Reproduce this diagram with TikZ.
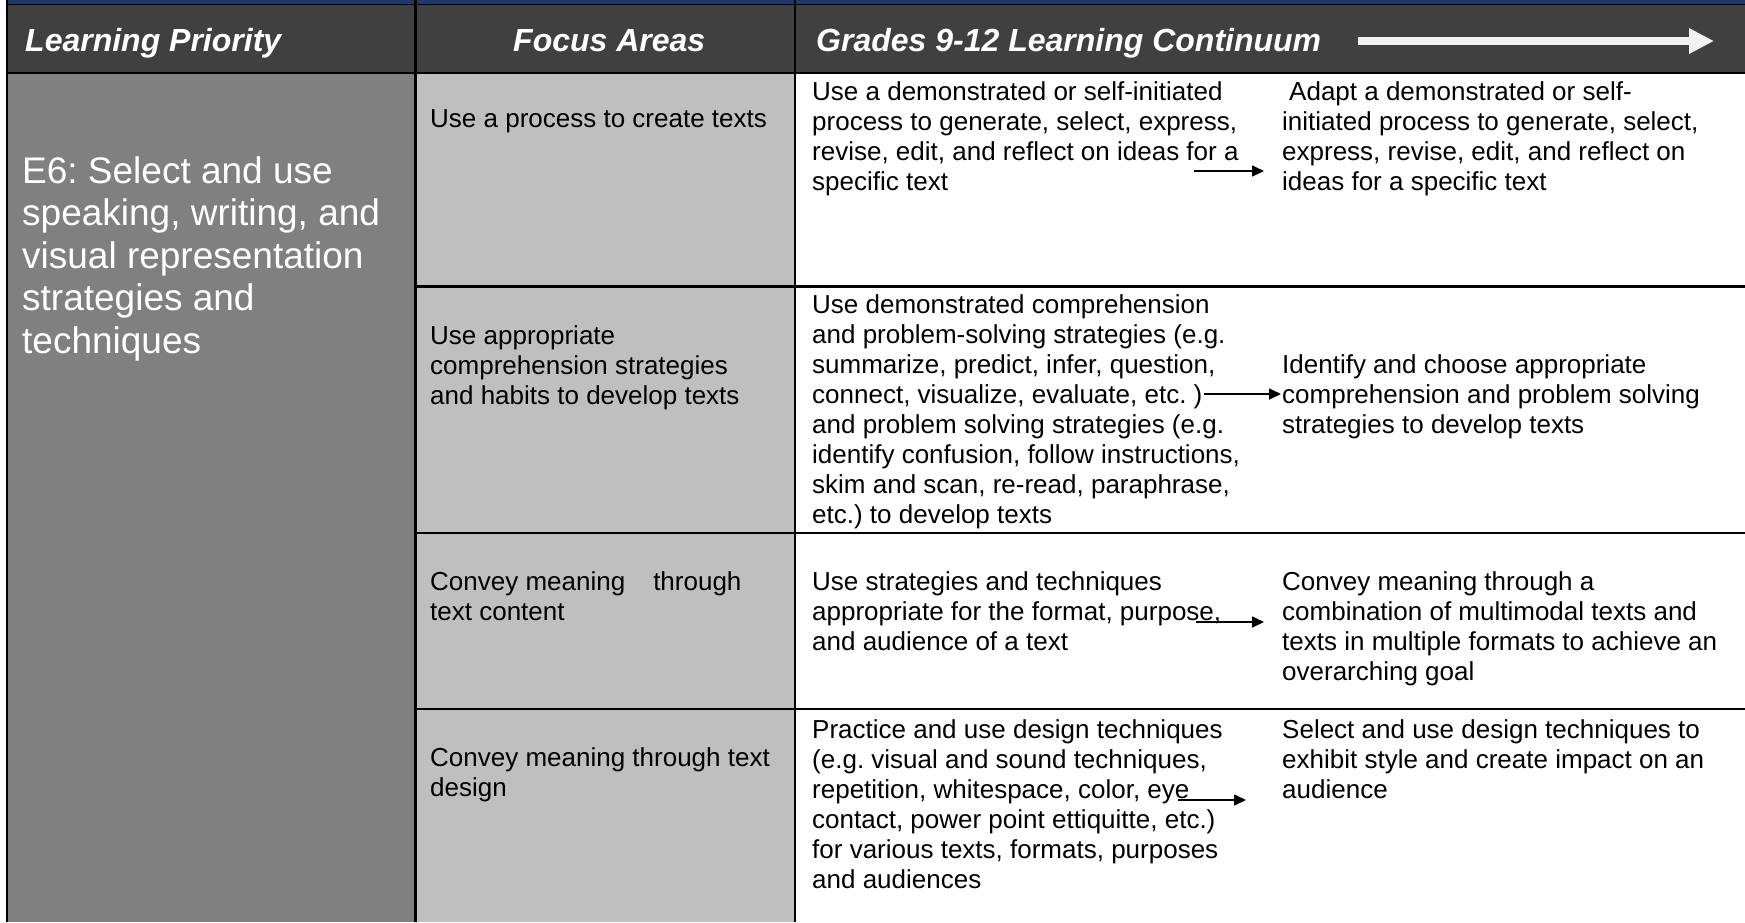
\documentclass[tikz,border=0pt]{standalone}
\usepackage{fontspec}
\setmainfont{Liberation Sans}
\usetikzlibrary{arrows.meta}

\definecolor{bandblue}{RGB}{31,56,100}
\definecolor{hdrgray}{RGB}{64,64,64}
\definecolor{prigray}{RGB}{128,128,128}
\definecolor{focgray}{RGB}{191,191,191}
\definecolor{arrowwhite}{RGB}{242,242,242}

\newcommand{\cellbox}[2][470pt]{\parbox[t]{#1}{\raggedright\frenchspacing #2}}

\begin{document}
\begin{tikzpicture}[x=1pt,y=-1pt,
  hdr/.style={anchor=base west,inner sep=0pt,text=white,font=\fontsize{32}{38}\selectfont\bfseries\itshape},
  prio/.style={anchor=base west,inner sep=0pt,text=white,font=\fontsize{37}{42.5}\selectfont},
  cell/.style={anchor=base west,inner sep=0pt,font=\fontsize{26}{30}\selectfont},
  gridline/.style={line width=2.2pt,black},
  contarrow/.style={line width=1.6pt,-{Triangle[length=12pt,width=11pt]}}]
   \useasboundingbox (0,0) rectangle (1745,922);
   \fill[white] (0,0) rectangle (1745,922);
   % band, header and column fills
   \fill[bandblue] (7,0) rectangle (1745,4.5);
   \fill[hdrgray] (7,4.5) rectangle (1745,73);
   \fill[prigray] (7,73) rectangle (415.5,922);
   \fill[focgray] (415.5,73) rectangle (795,922);
   % grid
   \draw[line width=1.5pt,black] (7,4.5) -- (1745,4.5);
   \draw[gridline] (7,73) -- (1745,73);
   \foreach \y in {286.5,533,709} \draw[gridline] (415.5,\y) -- (1745,\y);
   \foreach \x in {7,415.5,795} \draw[gridline] (\x,0) -- (\x,922);

   % header
   \node [hdr] (h_prio) at (25,51) {Learning Priority};
   \node [hdr] (h_focus) at (513,51) {Focus Areas};
   \node [hdr] (h_cont) at (816,51) {Grades 9-12 Learning Continuum};
   \coordinate (ha_s) at (1358,41);
   \coordinate (ha_e) at (1714,41);
   \draw[line width=8pt,arrowwhite,-{Triangle[length=25pt,width=24pt]}] (ha_s) -- (ha_e);

   % learning priority
   \node [prio] (prio) at (22,183) {\cellbox[390pt]{E6: Select and use\\ speaking, writing, and\\ visual representation\\ strategies and\\ techniques}};

   % focus areas
   \node [cell] (f_1) at (430,127) {\cellbox{Use a process to create texts}};
   \node [cell] (f_2) at (430,344) {\cellbox{Use appropriate\\ comprehension strategies\\ and habits to develop texts}};
   \node [cell] (f_3) at (430,590) {\cellbox{Convey meaning\hspace*{28pt}through\\ text content}};
   \node [cell] (f_4) at (430,766) {\cellbox{Convey meaning through text\\ design}};

   % continuum, first step
   \node [cell] (a_1) at (812,100) {\cellbox{Use a demonstrated or self-initiated\\ process to generate, select, express,\\ revise, edit, and reflect on ideas for a\\ specific text}};
   \node [cell] (a_2) at (812,313) {\cellbox{Use demonstrated comprehension\\ and problem-solving strategies (e.g.\\ summarize, predict, infer, question,\\ connect, visualize, evaluate, etc. )\\ and problem solving strategies (e.g.\\ identify confusion, follow instructions,\\ skim and scan, re-read, paraphrase,\\ etc.) to develop texts}};
   \node [cell] (a_3) at (812,590) {\cellbox{Use strategies and techniques\\ appropriate for the format, purpose,\\ and audience of a text}};
   \node [cell] (a_4) at (812,738) {\cellbox{Practice and use design techniques\\ (e.g. visual and sound techniques,\\ repetition, whitespace, color, eye\\ contact, power point ettiquitte, etc.)\\ for various texts, formats, purposes\\ and audiences}};

   % continuum, second step
   \node [cell] (b_1) at (1282,100) {\cellbox[440pt]{\hspace*{7pt}Adapt a demonstrated or self-\\ initiated process to generate, select,\\ express, revise, edit, and reflect on\\ ideas for a specific text}};
   \node [cell] (b_2) at (1282,373) {\cellbox[440pt]{Identify and choose appropriate\\ comprehension and problem solving\\ strategies to develop texts}};
   \node [cell] (b_3) at (1282,590) {\cellbox[440pt]{Convey meaning through a\\ combination of multimodal texts and\\ texts in multiple formats to achieve an\\ overarching goal}};
   \node [cell] (b_4) at (1282,738) {\cellbox[440pt]{Select and use design techniques to\\ exhibit style and create impact on an\\ audience}};

   \coordinate (r_1s) at (1194,171);
   \coordinate (r_1e) at (1264,171);
   \coordinate (r_2s) at (1204,394);
   \coordinate (r_2e) at (1281,394);
   \coordinate (r_3s) at (1196,622);
   \coordinate (r_3e) at (1264,622);
   \coordinate (r_4s) at (1178,800);
   \coordinate (r_4e) at (1246,800);
    \path[contarrow]
    (r_1s) edge (r_1e)
    (r_2s) edge (r_2e)
    (r_3s) edge (r_3e)
    (r_4s) edge (r_4e);
\end{tikzpicture}
\end{document}
